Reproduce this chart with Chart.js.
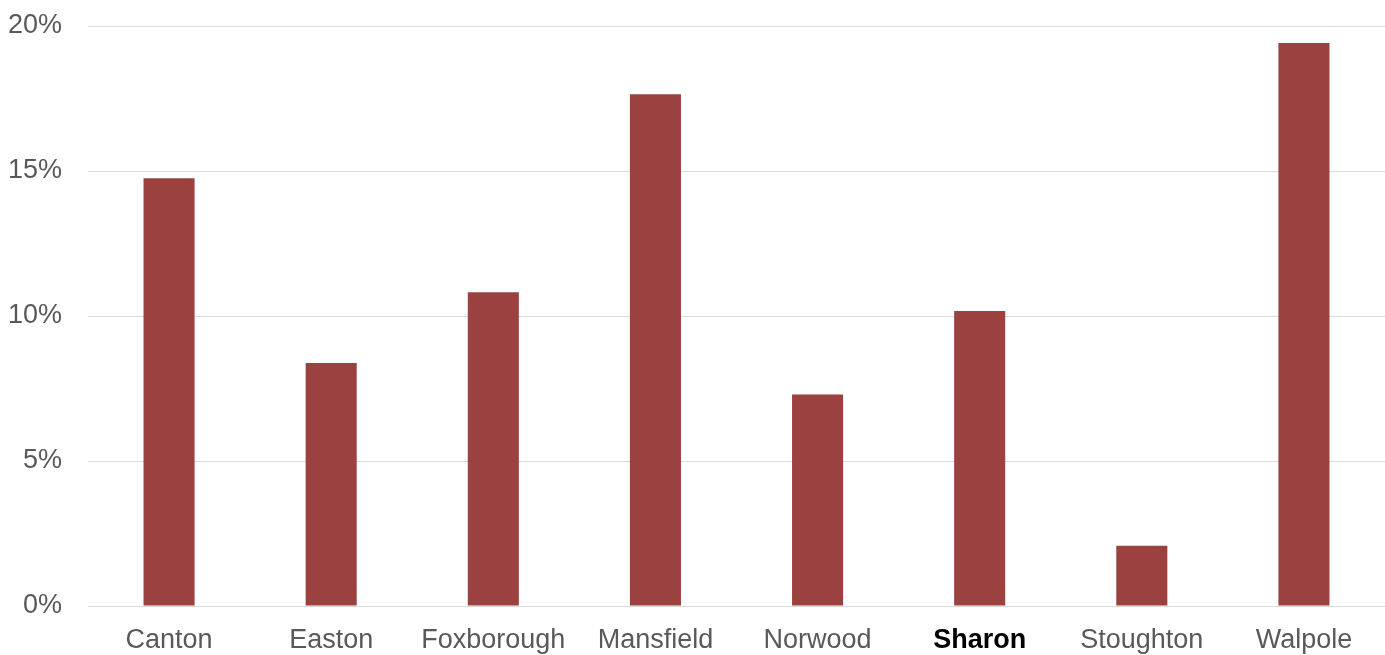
<!DOCTYPE html>
<html>
<head>
<meta charset="utf-8">
<script src="https://cdn.jsdelivr.net/npm/chart.js@4/dist/chart.umd.min.js"></script>
<style>
  html, body { margin: 0; padding: 0; background: #fff; }
</style>
</head>
<body>
<canvas id="bar-chart" width="1385" height="655"></canvas>
<script>
var towns = ["Canton", "Easton", "Foxborough", "Mansfield", "Norwood", "Sharon", "Stoughton", "Walpole"];
var shares = [14.75, 8.38, 10.82, 17.65, 7.29, 10.17, 2.08, 19.41];
var yTicks = [0, 5, 10, 15, 20];
var highlightTown = "Sharon";

var labelFont = "'Liberation Sans', Arial, sans-serif";

new Chart(document.getElementById("bar-chart"), {
    type: 'bar',
    data: {
        labels: towns,
        datasets: [{
            data: shares,
            backgroundColor: "#9b4241",
            categoryPercentage: 1,
            barPercentage: 0.315
        }]
    },
    options: {
        responsive: false,
        animation: false,
        layout: { padding: { top: 26, right: 0, bottom: 0, left: 0 } },
        plugins: {
            legend: { display: false },
            tooltip: { enabled: false }
        },
        scales: {
            x: {
                grid: { display: false },
                border: { display: false },
                ticks: {
                    padding: 10,
                    maxRotation: 0,
                    autoSkip: false,
                    color: function(ctx) {
                        return towns[ctx.index] === highlightTown ? "#000000" : "#595959";
                    },
                    font: function(ctx) {
                        return {
                            family: labelFont,
                            size: 27,
                            weight: towns[ctx.index] === highlightTown ? 'bold' : 'normal'
                        };
                    }
                },
                afterFit: function(scale) {
                    scale.height = 49;
                    scale.paddingLeft = 0;
                    scale.paddingRight = 0;
                }
            },
            y: {
                min: 0,
                max: 20,
                afterBuildTicks: function(scale) {
                    scale.ticks = yTicks.map(function(v) { return { value: v }; });
                },
                grid: { color: "#d9d9d9", lineWidth: 1, drawTicks: false },
                border: { display: false },
                ticks: {
                    padding: 26,
                    color: "#595959",
                    font: { family: labelFont, size: 27 },
                    callback: function(v) { return v + "%"; }
                },
                afterFit: function(scale) {
                    scale.width = 88;
                    scale.paddingTop = 0;
                    scale.paddingBottom = 0;
                }
            }
        }
    }
});
</script>
</body>
</html>
